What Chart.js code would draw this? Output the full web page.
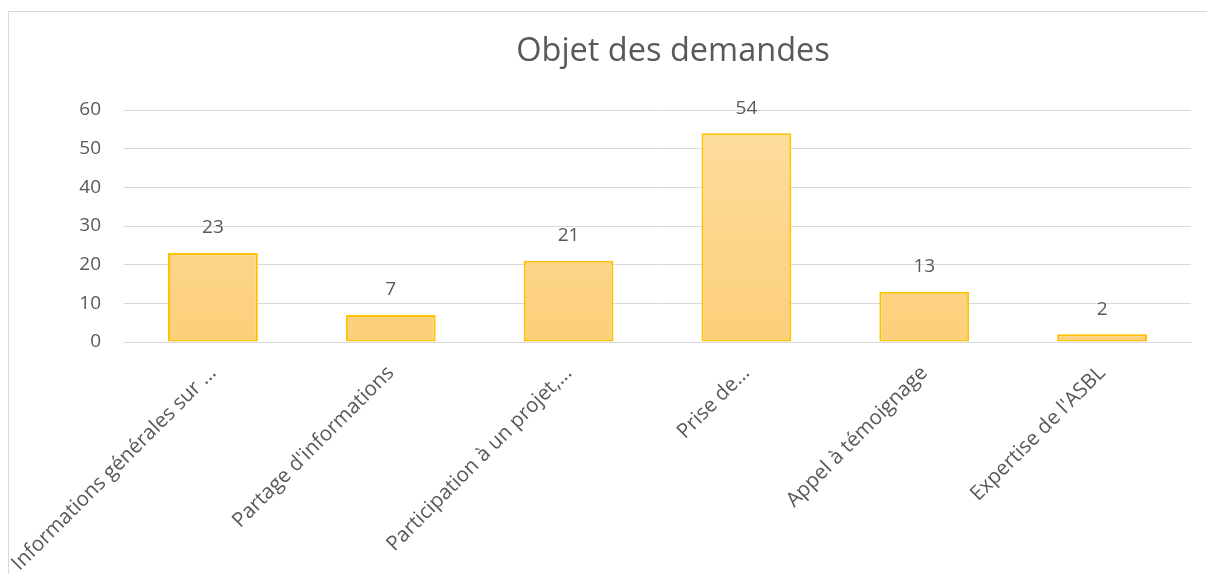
<!DOCTYPE html>
<html>
<head>
<meta charset="utf-8">
<script src="https://cdn.jsdelivr.net/npm/chart.js@4"></script>
<style>
  html, body { margin: 0; padding: 0; background: #fff; }
  #wrap { position: relative; width: 1207px; height: 574px; overflow: hidden; }
  #frame { position: absolute; left: 8px; top: 11px; width: 1300px; height: 700px; border: 1px solid #d9d9d9; box-sizing: border-box; }
  canvas { position: absolute; left: 0; top: 0; }
</style>
</head>
<body>
<div id="wrap">
  <div id="frame"></div>
  <canvas id="canvas1" width="1207" height="574"></canvas>
</div>
<script>
// données du graphique
var categories = ['Informations générales sur ...', "Partage d'informations", 'Participation à un projet,...', 'Prise de...', 'Appel à témoignage', "Expertise de l'ASBL"];
var valeurs = [23, 7, 21, 54, 13, 2];
var yTicks = [0, 10, 20, 30, 40, 50, 60];

var gris = '#595959';
var police = "'Open Sans', sans-serif";

// titre + étiquettes de valeurs
var extras = {
    id: 'extras',
    afterDatasetsDraw: function (chart) {
        var c = chart.ctx;
        c.save();
        c.fillStyle = gris;
        c.textAlign = 'center';
        c.textBaseline = 'middle';
        c.font = '19px ' + police;
        chart.getDatasetMeta(0).data.forEach(function (bar, i) {
            c.fillText(String(valeurs[i]), bar.x, bar.y - 25);
        });
        c.font = '32.5px ' + police;
        c.fillText('Objet des demandes', 673, 52);
        c.restore();
    }
};

var ctx = document.getElementById('canvas1').getContext('2d');
var chart = new Chart(ctx, {
    type: 'bar',
    data: {
        labels: categories,
        datasets: [{
            label: 'Objet des demandes',
            data: valeurs,
            backgroundColor: function (context) {
                var area = context.chart.chartArea;
                if (!area) return '#fdd68a';
                var g = context.chart.ctx.createLinearGradient(0, area.top, 0, area.bottom);
                g.addColorStop(0, '#fedda0');
                g.addColorStop(1, '#fcd07a');
                return g;
            },
            borderColor: '#ffc000',
            borderWidth: 2,
            borderSkipped: false,
            categoryPercentage: 1,
            barPercentage: 0.505
        }]
    },
    options: {
        responsive: false,
        animation: false,
        layout: { padding: { top: 110, right: 16, left: 0, bottom: 0 } },
        plugins: {
            legend: { display: false },
            title: { display: false },
            tooltip: { enabled: false }
        },
        scales: {
            x: {
                grid: { display: false, drawTicks: false },
                border: { display: true, color: '#d9d9d9', width: 1 },
                ticks: {
                    color: gris,
                    font: { family: police, size: 20.5 },
                    maxRotation: 45,
                    minRotation: 45,
                    padding: 19,
                    autoSkip: false
                },
                afterFit: function (axis) {
                    axis.height = 232;
                    axis.paddingLeft = 0;
                    axis.paddingRight = 0;
                }
            },
            y: {
                min: 0,
                max: 60,
                afterBuildTicks: function (axis) {
                    axis.ticks = yTicks.map(function (v) { return { value: v }; });
                },
                grid: { color: '#d9d9d9', lineWidth: 1, drawTicks: false },
                border: { display: false },
                ticks: {
                    color: gris,
                    font: { family: police, size: 19 },
                    padding: 23
                },
                afterFit: function (axis) { axis.width = 124; }
            }
        }
    },
    plugins: [extras]
});
</script>
</body>
</html>
